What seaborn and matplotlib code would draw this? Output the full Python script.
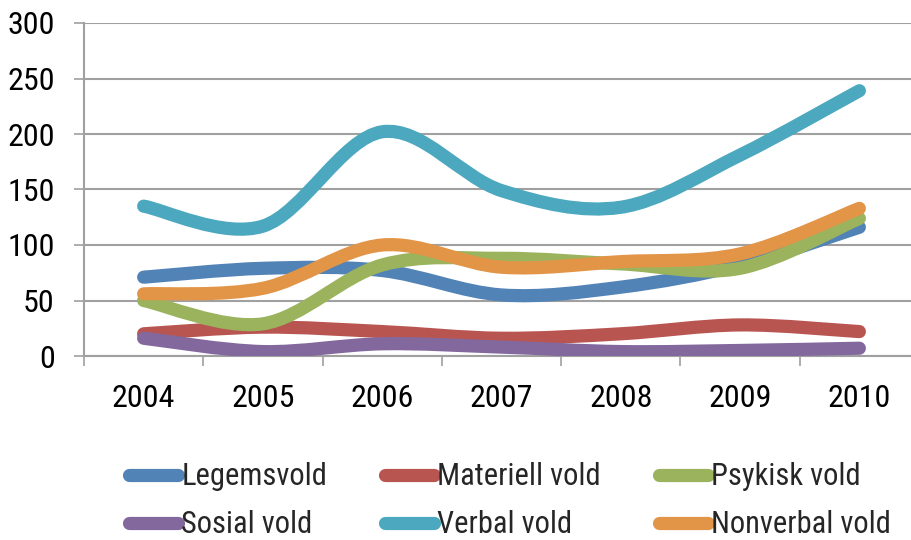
import numpy as np
import pandas as pd
import matplotlib
matplotlib.use("Agg")
import matplotlib.pyplot as plt
import seaborn as sns
from matplotlib.path import Path
from matplotlib.patches import PathPatch
from matplotlib.lines import Line2D

# ---- data ----
years = ["2004", "2005", "2006", "2007", "2008", "2009", "2010"]
legemsvold = [71, 79, 77, 55, 62, 82, 116]
materiell_vold = [20, 26, 22, 16, 20, 28, 22]
psykisk_vold = [50, 29, 82, 88, 83, 79, 124]
sosial_vold = [16, 4, 11, 8, 4, 5, 7]
verbal_vold = [135, 117, 202, 149, 134, 181, 239]
nonverbal_vold = [56, 61, 100, 80, 85, 92, 133]
series_names = ["Legemsvold", "Materiell vold", "Psykisk vold",
                "Sosial vold", "Verbal vold", "Nonverbal vold"]
series_values = [legemsvold, materiell_vold, psykisk_vold,
                 sosial_vold, verbal_vold, nonverbal_vold]
colors = ["#5183B6", "#B95550", "#9BB35C", "#83689E", "#4BA8BF", "#E29447"]
y_ticks = [0, 50, 100, 150, 200, 250, 300]

rows = []
for name, vals in zip(series_names, series_values):
    for i, v in enumerate(vals):
        rows.append({"idx": i, "value": v, "series": name})
df = pd.DataFrame(rows)

sns.set_style("white")
plt.rcParams["font.family"] = ["Roboto Condensed", "Liberation Sans", "DejaVu Sans"]
fs = 23
lfs = 22

W, H = 912, 540
fig = plt.figure(figsize=(W / 100, H / 100), dpi=100)
ax = fig.add_axes([84 / W, (H - 356) / H, 835 / W, 333 / H])

LW = 9.5
sns.lineplot(data=df, x="idx", y="value", hue="series", hue_order=series_names,
             palette=colors, linewidth=LW, ax=ax, sort=False, estimator=None,
             legend=False)

# Excel-style smoothing: replace each straight line by a cubic Bezier path
for z, line in enumerate(list(ax.lines)):
    x = np.asarray(line.get_xdata(), float)
    y = np.asarray(line.get_ydata(), float)
    n = len(x)
    if n < 2:
        continue
    P = np.column_stack([x, y])
    verts = [P[0]]
    codes = [Path.MOVETO]
    for i in range(n - 1):
        p0 = P[i - 1] if i > 0 else P[i]
        p1 = P[i]
        p2 = P[i + 1]
        p3 = P[i + 2] if i + 2 < n else P[i + 1]
        c1 = p1 + (p2 - p0) / 6.0
        c2 = p2 - (p3 - p1) / 6.0
        verts += [c1, c2, p2]
        codes += [Path.CURVE4] * 3
    patch = PathPatch(Path(verts, codes), fill=False, edgecolor=line.get_color(),
                      linewidth=LW, capstyle="round", joinstyle="round",
                      zorder=3 + z * 0.01)
    ax.add_patch(patch)
    line.set_visible(False)

ax.set_xlim(-0.5, 6.5)
ax.set_ylim(0, 300)
ax.set_yticks(y_ticks)
ax.set_yticklabels([str(t) for t in y_ticks])
ax.set_xticks(range(len(years)))
ax.set_xticklabels(years)
ax.set_xticks(np.arange(-0.5, len(years), 1.0), minor=True)
ax.set_xlabel("")
ax.set_ylabel("")

grid_c = "#A0A0A0"
ax.yaxis.grid(True, color=grid_c, linewidth=1.5)
ax.xaxis.grid(False)
ax.set_axisbelow(True)
for s in ["top", "right"]:
    ax.spines[s].set_visible(False)
for s in ["left", "bottom"]:
    ax.spines[s].set_color(grid_c)
    ax.spines[s].set_linewidth(1.5)

ax.tick_params(axis="y", which="major", direction="out", length=7, width=1.2,
               color=grid_c, pad=14, labelsize=fs, left=True)
ax.tick_params(axis="x", which="major", length=0, pad=20, labelsize=fs, bottom=True)
ax.tick_params(axis="x", which="minor", direction="out", length=7, width=1.2,
               color=grid_c, bottom=True)
for lab in ax.get_yticklabels() + ax.get_xticklabels():
    lab.set_color("black")

# legend, filled row by row (matplotlib fills column-wise, so reorder)
handles = [Line2D([0], [0], color=c, linewidth=LW, solid_capstyle="round")
           for c in colors]
order = [0, 3, 1, 4, 2, 5]
leg = ax.legend([handles[i] for i in order], [series_names[i] for i in order],
                loc="upper left", bbox_to_anchor=(114 / W, 1 - 447 / H),
                bbox_transform=fig.transFigure, ncol=3, frameon=False,
                fontsize=lfs, handlelength=1.6, handletextpad=0.1,
                columnspacing=1.9, labelspacing=0.62, borderpad=0)

fig.savefig("out.png", dpi=100)
